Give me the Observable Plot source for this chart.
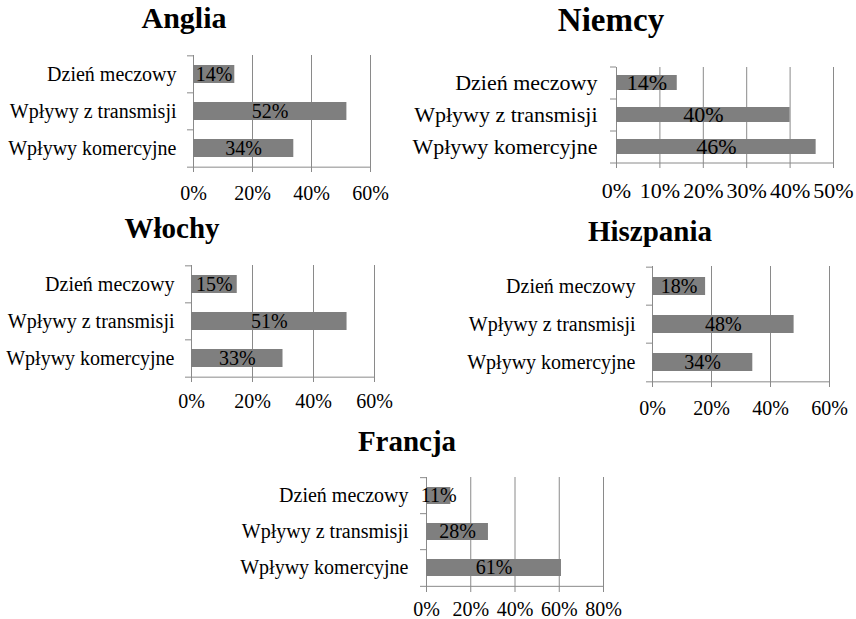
<!DOCTYPE html>
<html><head><meta charset="utf-8">
<script src="https://cdn.jsdelivr.net/npm/d3@7"></script>
<script src="https://cdn.jsdelivr.net/npm/@observablehq/plot@0.6"></script>
<style>
body{margin:0;background:#fff;}
#root{position:relative;width:856px;height:619px;overflow:hidden;font-family:"Liberation Serif","Times New Roman",serif;background:#fff;}
.title{position:absolute;font-weight:bold;line-height:1;white-space:nowrap;transform:translateX(-50%);color:#000;}
svg.panel{position:absolute;}
</style></head><body><div id="root"></div>
<script>
const categories = ["Dzień meczowy", "Wpływy z transmisji", "Wpływy komercyjne"];
const countries = ["Anglia", "Niemcy", "Włochy", "Hiszpania", "Francja"];

const angliaValues = [14, 52, 34];
const niemcyValues = [14, 40, 46];
const wlochyValues = [15, 51, 30];
const hiszpaniaValues = [18, 48, 34];
const francjaValues = [11, 28, 61];

const angliaLabels = ["14%", "52%", "34%"];
const niemcyLabels = ["14%", "40%", "46%"];
const wlochyLabels = ["15%", "51%", "33%"];
const hiszpaniaLabels = ["18%", "48%", "34%"];
const francjaLabels = ["11%", "28%", "61%"];

const ticks60 = [0, 20, 40, 60];
const ticks50 = [0, 10, 20, 30, 40, 50];
const ticks80 = [0, 20, 40, 60, 80];

const FONT = "Liberation Serif";
const GRAY = "#8a8a8a";
const BAR = "#7f7f7f";

// layout: svg position, margins, frame size, fonts
const layout = [
  {values: angliaValues, labels: angliaLabels, ticks: ticks60, left: 0, top: 40, ml: 193, mt: 15, fw: 177, fh: 112, mr: 28, mb: 40, fs: 20, tp: 13, lp: 17, tx: 184, tb: 30, tfs: 30},
  {values: niemcyValues, labels: niemcyLabels, ticks: ticks50, left: 400, top: 50, ml: 216, mt: 17, fw: 217, fh: 96, mr: 22, mb: 40, fs: 22, tp: 14, lp: 19, tx: 611, tb: 33, tfs: 33},
  {values: wlochyValues, labels: wlochyLabels, ticks: ticks60, left: 0, top: 250, ml: 191, mt: 15, fw: 183, fh: 112, mr: 28, mb: 40, fs: 20, tp: 11, lp: 17, tx: 172, tb: 240, tfs: 29},
  {values: hiszpaniaValues, labels: hiszpaniaLabels, ticks: ticks60, left: 440, top: 250, ml: 212, mt: 16, fw: 177, fh: 116, mr: 28, mb: 40, fs: 20, tp: 13, lp: 17, tx: 650, tb: 243, tfs: 29},
  {values: francjaValues, labels: francjaLabels, ticks: ticks80, left: 220, top: 460, ml: 206, mt: 17, fw: 177, fh: 110, mr: 28, mb: 30, fs: 20, tp: 9, lp: 18, tx: 407, tb: 453, tfs: 29}
];

const root = document.getElementById("root");

countries.forEach((name, k) => {
  const cfg = layout[k];
  const data = categories.map((c, i) => ({category: c, value: cfg.values[i], label: cfg.labels[i]}));
  const step = cfg.fh / categories.length;
  const xmax = cfg.ticks[cfg.ticks.length - 1];
  const svg = Plot.plot({
    width: cfg.ml + cfg.fw + cfg.mr,
    height: cfg.mt + cfg.fh + cfg.mb,
    marginLeft: cfg.ml, marginRight: cfg.mr, marginTop: cfg.mt, marginBottom: cfg.mb,
    style: {background: "none", fontSize: cfg.fs + "px", fontFamily: FONT, color: "#000", overflow: "visible"},
    x: {domain: [0, xmax]},
    y: {domain: categories, paddingInner: 0.52, paddingOuter: 0.26},
    marks: [
      Plot.ruleX(cfg.ticks, {stroke: GRAY}),
      Plot.barX(data, {x: "value", y: "category", fill: BAR}),
      Plot.ruleY(categories, {y: d => d, x1: 0, x2: 0, insetLeft: -6, dy: -step / 2, stroke: GRAY}),
      Plot.ruleY(categories.slice(-1), {y: d => d, x1: 0, x2: xmax, insetLeft: -6, dy: step / 2, stroke: GRAY}),
      Plot.axisX({ticks: cfg.ticks, tickSize: 5, tickPadding: cfg.tp, tickFormat: d => d + "%", stroke: GRAY, fill: "#000", label: null, fontFamily: FONT, fontSize: cfg.fs}),
      Plot.axisY({tickSize: 0, tickPadding: cfg.lp, fill: "#000", label: null, fontFamily: FONT, fontSize: cfg.fs}),
      Plot.text(data, {x: d => d.value / 2, y: "category", text: "label", fill: "#000", fontFamily: FONT, fontSize: cfg.fs})
    ]
  });
  svg.classList.add("panel");
  svg.style.left = cfg.left + "px";
  svg.style.top = cfg.top + "px";
  root.appendChild(svg);

  const t = document.createElement("div");
  t.className = "title";
  t.textContent = name;
  t.style.fontSize = cfg.tfs + "px";
  t.style.left = cfg.tx + "px";
  t.style.top = (cfg.tb - 0.891 * cfg.tfs) + "px";
  root.appendChild(t);
});
</script>
</body></html>
